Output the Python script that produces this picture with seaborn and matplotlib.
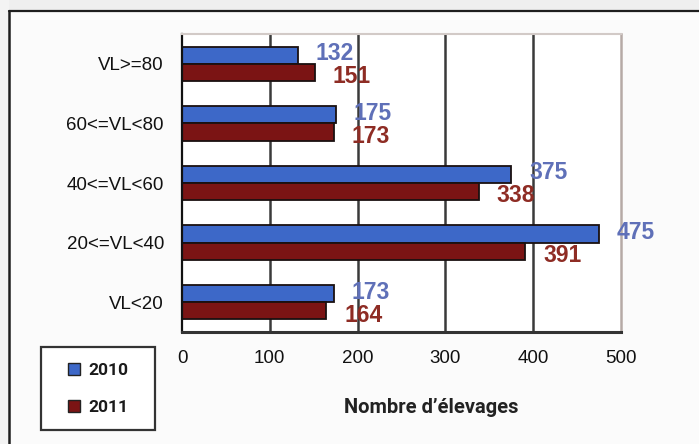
import matplotlib
matplotlib.use("Agg")
import matplotlib.pyplot as plt
from matplotlib.lines import Line2D
from matplotlib.patches import Patch, Rectangle
import pandas as pd
import seaborn as sns

categories = ["VL>=80", "60<=VL<80", "40<=VL<60", "20<=VL<40", "VL<20"]
years = ["2010", "2011"]
counts_2010 = [132, 175, 375, 475, 173]
counts_2011 = [151, 173, 338, 391, 164]
xticks = [0, 100, 200, 300, 400, 500]

BAR_COLORS = {"2010": "#3d68c8", "2011": "#7b1414"}
LABEL_COLORS = {"2010": "#5f70b8", "2011": "#8e2c24"}

df = pd.DataFrame({
    "category": categories * 2,
    "year": [years[0]] * len(categories) + [years[1]] * len(categories),
    "count": counts_2010 + counts_2011,
})

sns.set_theme(style="white")
plt.rcParams["font.family"] = ["Liberation Sans", "DejaVu Sans"]

W, H = 699, 444
fig = plt.figure(figsize=(W / 100, H / 100), dpi=100, facecolor="#fbfbfb")
ax = fig.add_axes([182 / W, 1 - 332 / H, (621 - 182) / W, (332 - 34) / H])
ax.set_facecolor("white")

sns.barplot(data=df, y="category", x="count", hue="year", order=categories,
            hue_order=years, palette=BAR_COLORS, orient="h", width=0.58,
            edgecolor="#1a1010", linewidth=1.3, saturation=1, legend=False, ax=ax)

# value labels next to each bar
for cont, yr in zip(ax.containers, years):
    dy = 1 if yr == "2010" else -3
    for bar in cont:
        w = bar.get_width()
        ax.annotate(f"{w:.0f}", (w, bar.get_y() + bar.get_height() / 2),
                    xytext=(13, dy), textcoords="offset points", va="center", ha="left",
                    fontsize=16.5, fontweight="bold", color=LABEL_COLORS[yr])

ax.set_xlim(xticks[0], xticks[-1])
ax.set_ylim(len(categories) - 0.5, -0.5)
ax.set_xticks(xticks)
ax.set_yticks(range(len(categories)))
ax.set_yticklabels(categories)
ax.set_yticks([i - 0.5 for i in range(len(categories) + 1)], minor=True)
ax.set_xlabel("")
ax.set_ylabel("")

ax.tick_params(axis="y", which="major", length=0, pad=13, labelsize=13.5, labelcolor="#111")
ax.tick_params(axis="y", which="minor", length=5, width=1.5, color="#111", direction="out")
ax.tick_params(axis="x", which="major", length=4, width=1.5, color="#222", direction="out",
               pad=9, labelsize=13.5, labelcolor="#111")

ax.set_axisbelow(True)
ax.xaxis.grid(True, color="#3a3a3a", linewidth=1.8)
ax.get_xgridlines()[-1].set_visible(False)
ax.get_xgridlines()[0].set_visible(False)

for side in ax.spines:
    ax.spines[side].set_visible(True)
ax.spines["left"].set_color("#111")
ax.spines["left"].set_linewidth(1.6)
ax.spines["bottom"].set_color("#333")
ax.spines["bottom"].set_linewidth(2.2)
ax.spines["top"].set_color("#d2cac7")
ax.spines["top"].set_linewidth(1.5)
ax.spines["right"].set_color("#b6aaa6")
ax.spines["right"].set_linewidth(1.8)

# legend: drawn box plus frameless legend inside it
fig.add_artist(Rectangle((41 / W, 1 - 430 / H), (155 - 41) / W, (430 - 347) / H,
                         transform=fig.transFigure, facecolor="white",
                         edgecolor="#333", linewidth=1.6, zorder=1))
handles = [Patch(facecolor=BAR_COLORS[y], edgecolor="#222", linewidth=1.0) for y in years]
leg = fig.legend(handles, years, loc="center", bbox_to_anchor=(98 / W, 1 - 389 / H),
                 frameon=False, handlelength=0.7, handleheight=0.7,
                 handletextpad=0.45, labelspacing=1.3, borderpad=0, borderaxespad=0,
                 prop={"family": "Roboto", "weight": "bold", "size": 12.5})
leg.set_zorder(2)
for t in leg.get_texts():
    t.set_color("#1a1a1a")

fig.text(431 / W, 1 - 407 / H, "Nombre d\u2019élevages", ha="center", va="center",
         fontsize=14.5, fontweight="bold", family="Roboto", color="#222")

# outer frame (top and left edges) with a light strip outside it
fig.add_artist(Rectangle((0, 1 - 10 / H), 1, 10 / H, transform=fig.transFigure,
                         facecolor="#efefef", edgecolor="none", zorder=0))
fig.add_artist(Rectangle((0, 0), 9 / W, 1, transform=fig.transFigure,
                         facecolor="#f3f3f3", edgecolor="none", zorder=0))
fig.add_artist(Line2D([9 / W, 1], [1 - 11 / H] * 2, transform=fig.transFigure,
                      color="#1e1e1e", linewidth=1.6))
fig.add_artist(Line2D([9 / W] * 2, [0, 1 - 11 / H], transform=fig.transFigure,
                      color="#1e1e1e", linewidth=1.8))

fig.savefig("out.png", dpi=100, facecolor=fig.get_facecolor())
